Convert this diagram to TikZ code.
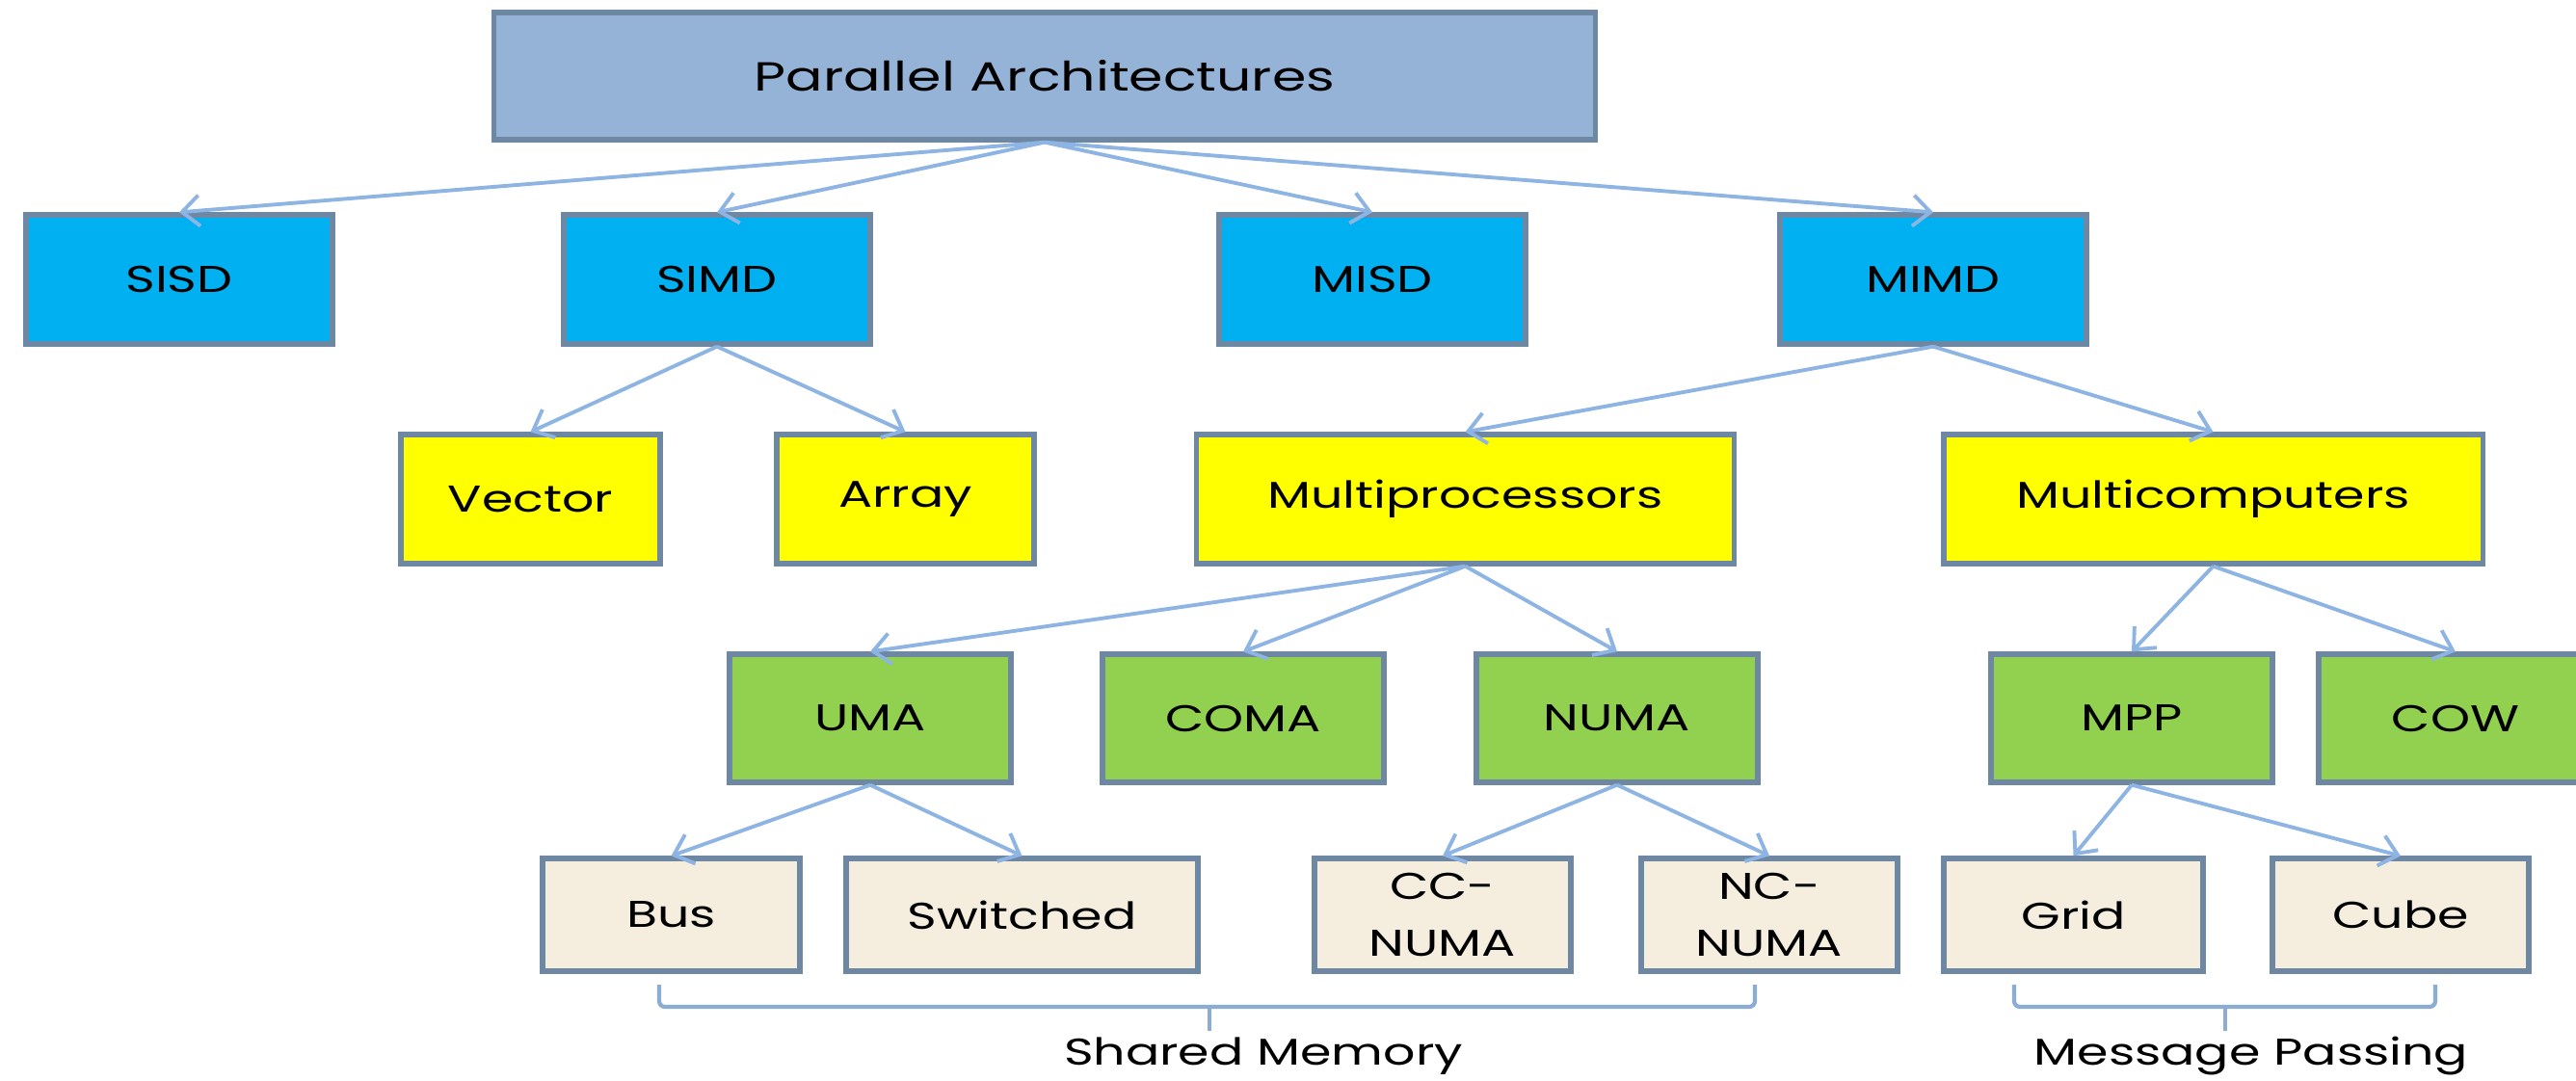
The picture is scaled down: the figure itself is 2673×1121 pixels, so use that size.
\documentclass[tikz,border=0pt]{standalone}
\usepackage{fontspec}
\setmainfont{Poppins}[FakeStretch=1.35]
\usetikzlibrary{arrows.meta}
\definecolor{topfill}{HTML}{95B3D7}
\definecolor{bordc}{HTML}{6E87A2}
\definecolor{bluefill}{HTML}{00B0F0}
\definecolor{yelfill}{HTML}{FFFF00}
\definecolor{grnfill}{HTML}{92D050}
\definecolor{begfill}{HTML}{F5EEDF}
\definecolor{arrc}{HTML}{8DB4E2}
\begin{document}
\begin{tikzpicture}[x=0.01cm,y=-0.01cm,
  box/.style={draw=bordc,line width=1.5pt,inner sep=0pt,align=center,
    font=\fontsize{11}{17}\selectfont},
  tbox/.style={box,fill=topfill,font=\fontsize{12}{14}\selectfont},
  bbox/.style={box,fill=bluefill,minimum width=3.18cm,minimum height=1.34cm},
  ybox/.style={box,fill=yelfill,minimum height=1.34cm},
  gbox/.style={box,fill=grnfill,minimum height=1.33cm},
  ebox/.style={box,fill=begfill,minimum height=1.17cm},
  conn/.style={draw=arrc,line width=1.1pt,-{Straight Barb[length=1.8mm,width=3.2mm]}},
  brace/.style={draw=arrc!85!gray,line width=1.2pt,rounded corners=0.06cm},
  lbl/.style={inner sep=0pt,anchor=base,font=\fontsize{11}{14}\selectfont}
]
\useasboundingbox (0,0) rectangle (2673,1121);
\clip (0,0) rectangle (2673,1121);
\fill[white] (0,0) rectangle (2673,1121);

\node[tbox,minimum width=11.42cm,minimum height=1.32cm] (pa) at (1084,79) {Parallel Architectures};

\node[bbox] (sisd) at (186,290) {SISD};
\node[bbox] (simd) at (744,290) {SIMD};
\node[bbox] (misd) at (1424,290) {MISD};
\node[bbox] (mimd) at (2006,290) {MIMD};

\node[ybox,minimum width=2.69cm] (vec) at (550.5,518) {Vector};
\node[ybox,minimum width=2.67cm] (arr) at (939.5,518) {Array};
\node[ybox,minimum width=5.57cm] (mp) at (1520.5,518) {Multiprocessors};
\node[ybox,minimum width=5.59cm] (mc) at (2296.5,518) {Multicomputers};

\node[gbox,minimum width=2.92cm] (uma) at (903,745.5) {UMA};
\node[gbox,minimum width=2.92cm] (coma) at (1290,745.5) {COMA};
\node[gbox,minimum width=2.92cm] (numa) at (1678,745.5) {NUMA};
\node[gbox,minimum width=2.92cm] (mpp) at (2212,745.5) {MPP};
\node[gbox,minimum width=2.84cm] (cow) at (2548,745.5) {COW};

\node[ebox,minimum width=2.67cm] (bus) at (696.5,949.5) {Bus};
\node[ebox,minimum width=3.65cm] (sw) at (1060.5,949.5) {Switched};
\node[ebox,minimum width=2.66cm] (ccn) at (1497,949.5) {CC-\\NUMA};
\node[ebox,minimum width=2.66cm] (ncn) at (1836,949.5) {NC-\\NUMA};
\node[ebox,minimum width=2.69cm] (grid) at (2151.5,949.5) {Grid};
\node[ebox,minimum width=2.66cm] (cube) at (2491,949.5) {Cube};

\foreach \c in {sisd,simd,misd,mimd} \draw[conn] (pa.south) -- (\c.north);
\foreach \c in {vec,arr} \draw[conn] (simd.south) -- (\c.north);
\foreach \c in {mp,mc} \draw[conn] (mimd.south) -- (\c.north);
\foreach \c in {uma,coma,numa} \draw[conn] (mp.south) -- (\c.north);
\foreach \c in {mpp,cow} \draw[conn] (mc.south) -- (\c.north);
\foreach \c in {bus,sw} \draw[conn] (uma.south) -- (\c.north);
\foreach \c in {ccn,ncn} \draw[conn] (numa.south) -- (\c.north);
\foreach \c in {grid,cube} \draw[conn] (mpp.south) -- (\c.north);

% brackets
\coordinate (s1) at (684,1022);
\coordinate (s2) at (1821,1022);
\coordinate (sm) at (1255,1070);
\draw[brace] (s1) -- (684,1045) -- (1821,1045) -- (s2);
\draw[brace] (1255,1045) -- (sm);
\node[lbl] (shm) at (1311,1105) {Shared Memory};

\coordinate (m1) at (2090,1022);
\coordinate (m2) at (2527,1022);
\coordinate (mm) at (2309,1070);
\draw[brace] (m1) -- (2090,1045) -- (2527,1045) -- (m2);
\draw[brace] (2309,1045) -- (mm);
\node[lbl] (msg) at (2336,1105) {Message Passing};
\end{tikzpicture}
\end{document}
